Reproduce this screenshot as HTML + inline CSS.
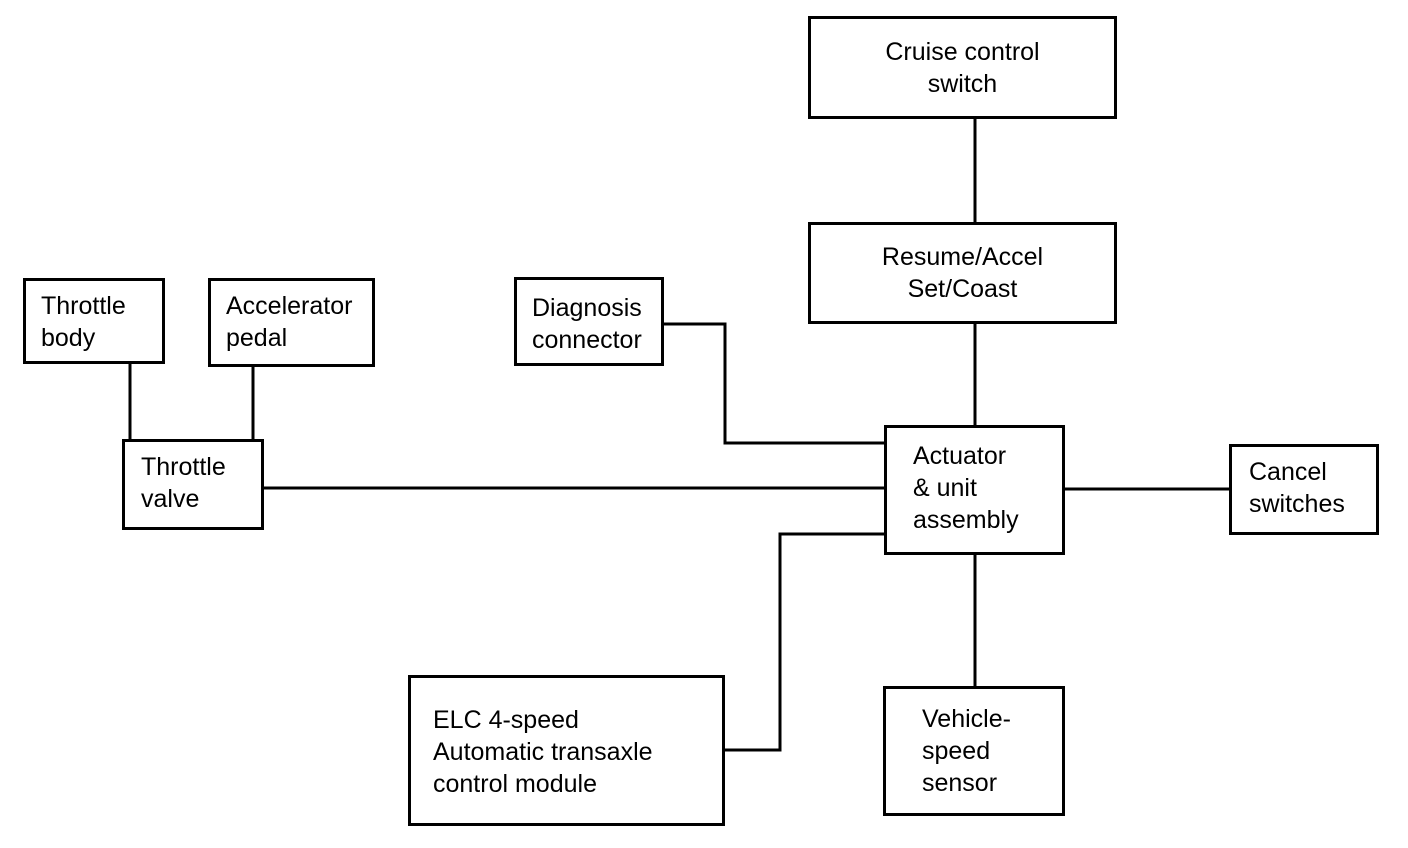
<!DOCTYPE html>
<html><head><style>
html,body{margin:0;padding:0;background:#fff;}
body{width:1408px;height:848px;position:relative;overflow:hidden;font-family:"Liberation Sans",Arial,sans-serif;}
.b{position:absolute;box-sizing:border-box;border:3px solid #000;font-size:25px;line-height:32px;color:#000;}
.c{display:flex;align-items:center;justify-content:center;text-align:center;}
.l{padding-left:14px;padding-top:8px;}
svg{position:absolute;left:0;top:0;}
</style></head><body>
<svg width="1408" height="848">
<g stroke="#000" stroke-width="3" fill="none">
<line x1="975" y1="118" x2="975" y2="222"/>
<line x1="975" y1="323" x2="975" y2="425"/>
<line x1="975" y1="554" x2="975" y2="686"/>
<polyline points="662,324 725,324 725,443 885,443"/>
<line x1="262" y1="488" x2="885" y2="488"/>
<line x1="1063" y1="489" x2="1229" y2="489"/>
<polyline points="885,534 780,534 780,750 723,750"/>
<line x1="130" y1="363" x2="130" y2="439"/>
<line x1="253" y1="366" x2="253" y2="439"/>
</g></svg>
<div class="b c" style="left:808px;top:16px;width:309px;height:103px;">Cruise control<br>switch</div>
<div class="b c" style="left:808px;top:222px;width:309px;height:102px;">Resume/Accel<br>Set/Coast</div>
<div class="b l" style="left:514px;top:277px;width:150px;height:89px;padding-left:15px;padding-top:12px;">Diagnosis<br>connector</div>
<div class="b l" style="left:23px;top:278px;width:142px;height:86px;padding-left:15px;padding-top:9px;">Throttle<br>body</div>
<div class="b l" style="left:208px;top:278px;width:167px;height:89px;padding-left:15px;padding-top:9px;">Accelerator<br>pedal</div>
<div class="b l" style="left:122px;top:439px;width:142px;height:91px;padding-left:16px;padding-top:9px;">Throttle<br>valve</div>
<div class="b l" style="left:884px;top:425px;width:181px;height:130px;padding-left:26px;padding-top:12px;">Actuator<br>&amp; unit<br>assembly</div>
<div class="b l" style="left:1229px;top:444px;width:150px;height:91px;padding-left:17px;padding-top:9px;">Cancel<br>switches</div>
<div class="b l" style="left:408px;top:675px;width:317px;height:151px;padding-left:22px;padding-top:26px;">ELC 4-speed<br>Automatic transaxle<br>control module</div>
<div class="b l" style="left:883px;top:686px;width:182px;height:130px;padding-left:36px;padding-top:14px;">Vehicle-<br>speed<br>sensor</div>
</body></html>
